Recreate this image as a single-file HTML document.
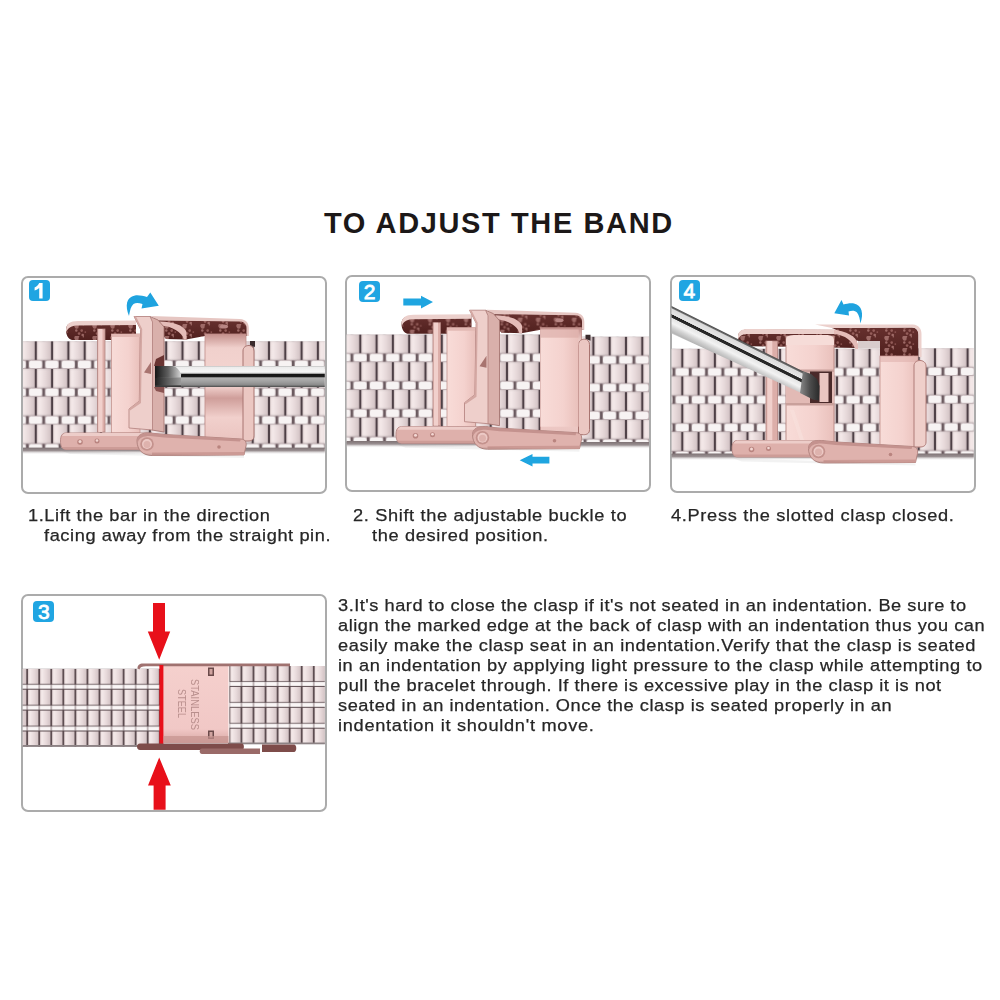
<!DOCTYPE html>
<html><head><meta charset="utf-8">
<style>
html,body{margin:0;padding:0;background:#fff;}
body{width:1000px;height:1000px;position:relative;overflow:hidden;font-family:"Liberation Sans",sans-serif;}
.t{position:absolute;white-space:pre;color:#262626;font-size:17.2px;line-height:20px;-webkit-text-stroke:0.25px #262626;transform:scaleX(1.06);transform-origin:0 0;}
#title{position:absolute;left:324px;top:204.5px;font-weight:bold;font-size:29px;line-height:36px;color:#1c1818;letter-spacing:1.62px;white-space:pre;}
.box{position:absolute;border:2px solid #ababab;border-radius:7px;box-sizing:border-box;background:#fff;}
.badge{position:absolute;width:21px;height:21px;border-radius:4px;background:#20a5e2;color:#fff;font-weight:normal;font-size:21px;line-height:22px;text-align:center;-webkit-text-stroke:0.8px #fff;}
svg{position:absolute;left:0;top:0;filter:blur(0.35px);}
</style></head><body>
<div id="title">TO ADJUST THE BAND</div>

<div class="box" style="left:21px;top:276px;width:305.8px;height:217.7px"></div>
<div class="box" style="left:344.6px;top:274.8px;width:306.4px;height:217.7px"></div>
<div class="box" style="left:669.6px;top:275.2px;width:306.2px;height:217.8px"></div>
<div class="box" style="left:20.7px;top:594.2px;width:306.1px;height:217.6px"></div>

<svg width="1000" height="1000" viewBox="0 0 1000 1000"><defs>
<linearGradient id="lk" x1="0" y1="0" x2="1" y2="0">
 <stop offset="0" stop-color="#eadcdc"/><stop offset="0.2" stop-color="#f4e9e9"/><stop offset="0.6" stop-color="#e6d8d9"/><stop offset="1" stop-color="#d2c2c4"/>
</linearGradient>
<linearGradient id="lkH" x1="0" y1="0" x2="0" y2="1">
 <stop offset="0" stop-color="#000" stop-opacity="0.06"/><stop offset="0.15" stop-color="#fff" stop-opacity="0"/><stop offset="0.85" stop-color="#fff" stop-opacity="0"/><stop offset="1" stop-color="#000" stop-opacity="0.08"/>
</linearGradient>
<pattern id="bandA" patternUnits="userSpaceOnUse" width="16.3" height="27.8">
 <rect width="16.3" height="27.8" fill="#4e4046"/>
 <rect x="0" y="18.8" width="16.3" height="9" fill="#b4a4a8"/>
 <rect x="1.1" y="0" width="14.1" height="18.8" fill="url(#lk)"/>
 <rect x="1.1" y="0" width="14.1" height="18.8" fill="url(#lkH)"/>
 <rect x="-7.1" y="19.2" width="13.7" height="8.2" rx="2.6" fill="#f7f3f3" stroke="#a89699" stroke-width="0.5"/>
 <rect x="9.2" y="19.2" width="13.7" height="8.2" rx="2.6" fill="#f7f3f3" stroke="#a89699" stroke-width="0.5"/>
 <rect x="6.7" y="19.4" width="2.4" height="7.8" fill="#6a5a5f"/>
</pattern>
<pattern id="bandB" patternUnits="userSpaceOnUse" width="12.05" height="20.9">
 <rect width="12.05" height="20.9" fill="#5a4a4e"/>
 <rect x="0.9" y="0" width="10.25" height="15.2" fill="url(#lk)"/>
 <rect x="0" y="16.0" width="12.05" height="3.9" fill="#faf6f6"/>
 <rect x="11.35" y="16.0" width="0.7" height="3.9" fill="#a89a9d"/>
 <rect x="0" y="16.0" width="0.7" height="3.9" fill="#a89a9d"/>
</pattern>
<linearGradient id="sd" x1="0" y1="0" x2="0" y2="1">
 <stop offset="0" stop-color="#bcbcbc"/><stop offset="0.06" stop-color="#ececec"/><stop offset="0.28" stop-color="#f7f7f7"/>
 <stop offset="0.35" stop-color="#d4d4d4"/><stop offset="0.38" stop-color="#141414"/><stop offset="0.52" stop-color="#1e1e1e"/>
 <stop offset="0.56" stop-color="#b4b4b4"/><stop offset="0.78" stop-color="#9c9c9c"/><stop offset="0.9" stop-color="#8a8a8a"/><stop offset="1" stop-color="#4a4a4a"/>
</linearGradient>
<linearGradient id="sd4" gradientUnits="userSpaceOnUse" x1="671.5" y1="306" x2="660.6" y2="327.9">
 <stop offset="0" stop-color="#4a4a4a"/><stop offset="0.06" stop-color="#6a6a6a"/><stop offset="0.10" stop-color="#dadada"/><stop offset="0.29" stop-color="#e6e6e6"/>
 <stop offset="0.31" stop-color="#262626"/><stop offset="0.41" stop-color="#2a2a2a"/><stop offset="0.44" stop-color="#e4e4e4"/>
 <stop offset="0.62" stop-color="#f3f3f3"/><stop offset="0.78" stop-color="#d2d2d2"/><stop offset="0.95" stop-color="#b6b6b6"/><stop offset="1" stop-color="#c8c8c8"/>
</linearGradient>
<linearGradient id="tip4" x1="0" y1="0" x2="1" y2="0">
 <stop offset="0" stop-color="#8a8a8a"/><stop offset="0.5" stop-color="#4e4e4e"/><stop offset="1" stop-color="#2a2a2a"/>
</linearGradient>
<linearGradient id="tip" x1="0" y1="0" x2="1" y2="0">
 <stop offset="0" stop-color="#151515"/><stop offset="0.5" stop-color="#5e5e5e"/><stop offset="1" stop-color="#d6d6d6"/>
</linearGradient>
<linearGradient id="tipB" x1="0" y1="0" x2="1" y2="0">
 <stop offset="0" stop-color="#1e1e1e"/><stop offset="0.6" stop-color="#6a6a6a"/><stop offset="1" stop-color="#9a9a9a"/>
</linearGradient>
<linearGradient id="pinkV" x1="0" y1="0" x2="0" y2="1">
 <stop offset="0" stop-color="#e6bcb7"/><stop offset="1" stop-color="#e0b2ad"/>
</linearGradient>
<linearGradient id="pinkP" x1="0" y1="0" x2="1" y2="0">
 <stop offset="0" stop-color="#f8dcd8"/><stop offset="0.6" stop-color="#f4d2ce"/><stop offset="1" stop-color="#e9c0bb"/>
</linearGradient>
<linearGradient id="pink3" x1="0" y1="0" x2="0" y2="1">
 <stop offset="0" stop-color="#f5d0cd"/><stop offset="0.82" stop-color="#f1c8c6"/><stop offset="1" stop-color="#d6a6a2"/>
</linearGradient>
<linearGradient id="topDark" x1="0" y1="0" x2="0" y2="1">
 <stop offset="0" stop-color="#66302e"/><stop offset="1" stop-color="#50201e"/>
</linearGradient>
<pattern id="mottle" patternUnits="userSpaceOnUse" width="18" height="12"><circle cx="4.3" cy="6.5" r="1.2" fill="#c89490"/><circle cx="11.3" cy="0.8" r="0.8" fill="#c89490"/><circle cx="4.7" cy="2.8" r="2.0" fill="#c89490"/><circle cx="9.7" cy="6.6" r="1.3" fill="#b87e7a"/><circle cx="4.2" cy="1.8" r="1.9" fill="#c89490"/><circle cx="13.3" cy="8.1" r="0.9" fill="#a86c6a"/><circle cx="5.4" cy="0.4" r="1.8" fill="#c89490"/><circle cx="10.7" cy="11.0" r="1.3" fill="#c89490"/><circle cx="7.1" cy="9.6" r="1.3" fill="#b87e7a"/></pattern>
<linearGradient id="rplate" x1="0" y1="0" x2="0" y2="1">
 <stop offset="0" stop-color="#c4908c"/><stop offset="0.13" stop-color="#f0d0cc"/><stop offset="0.48" stop-color="#f4d5d1"/>
 <stop offset="0.6" stop-color="#cf9e9a"/><stop offset="0.78" stop-color="#f1d0cc"/><stop offset="1" stop-color="#eac4c0"/>
</linearGradient>
<linearGradient id="bsh" x1="0" y1="0" x2="0" y2="1">
 <stop offset="0" stop-color="#7e7274"/><stop offset="0.45" stop-color="#9a9092"/><stop offset="1" stop-color="#ffffff" stop-opacity="0"/>
</linearGradient>
<clipPath id="cp1"><rect x="23.0" y="278.0" width="301.8" height="213.7" rx="5"/></clipPath>
<clipPath id="cp2"><rect x="346.6" y="276.8" width="302.4" height="213.7" rx="5"/></clipPath>
<clipPath id="cp4"><rect x="671.6" y="277.2" width="302.2" height="213.8" rx="5"/></clipPath>
<clipPath id="cp3"><rect x="22.7" y="596.2" width="302.1" height="213.6" rx="5"/></clipPath>
</defs>
<g clip-path="url(#cp1)">
 <g transform="translate(19.5,341.2)"><rect x="2" y="0" width="186" height="107.4" fill="url(#bandA)"/></g>
 <g transform="translate(24.5,341.2)"><rect x="220" y="0" width="90" height="107.4" fill="url(#bandA)"/></g>
 <rect x="22" y="447.6" width="310" height="7" fill="url(#bsh)"/>
 <g id="clasp1">
 <!-- top plate left -->
 <path d="M66,330 C66,324 70,322 78,322 L136,321.5 L136,340 L72,340 C68,339 66,335 66,330 Z" fill="url(#topDark)"/>
 <path d="M66,330 C66,324 70,322 78,322 L136,321.5 L136,340 L72,340 C68,339 66,335 66,330 Z" fill="url(#mottle)" opacity="0.6"/>
 <path d="M66,330 C66,324 70,321 78,321 L136,320.5 L136,325 L76,325.5 C71,326 68,328 66.5,332 Z" fill="#ecd0cc"/>
 <!-- top plate right -->
 <path d="M158,320 L242,321 C246.5,321.5 248,324 248,328 L248,336 L205,336 L186,339.5 L166,339 L158,330 Z" fill="url(#topDark)"/>
 <path d="M158,320 L242,321 C246.5,321.5 248,324 248,328 L248,336 L205,336 L186,339.5 L166,339 L158,330 Z" fill="url(#mottle)" opacity="0.6"/>
 <path d="M151,316 L240,319 C246,319.5 248.8,323 248.8,328 L248.8,336 L246.5,336 L246.5,328 C246.5,324 244,321.5 240,321.5 L158,320.5 Z" fill="#e6c6c2"/>
 <ellipse cx="224" cy="326.5" rx="4" ry="2" fill="#b88684"/>
 <path d="M160,321.5 C172,321.5 184,325 186.5,332 L186.5,339.5 L184,339.5 C182,332 172,326 160,325.5 Z" fill="#e4bcb8"/>
 
 <!-- left vertical bar -->
 <rect x="97.5" y="329" width="7.5" height="103" fill="#dcaea9" stroke="#b28480" stroke-width="0.8"/>
 <rect x="98.3" y="329" width="4.2" height="103" fill="#f1d0cc"/>
 <!-- central plate -->
 <rect x="111.5" y="334" width="28.5" height="99" fill="url(#pinkP)" stroke="#c49490" stroke-width="0.8"/>
 <rect x="111.5" y="334" width="28.5" height="3" fill="#e2b8b3"/>
 <!-- right plate -->
 <rect x="205" y="334" width="41" height="107" fill="url(#rplate)" stroke="#c08e8a" stroke-width="0.8"/>
 <!-- right bracket -->
 <path d="M243,351 C243,347 246,345.5 249,345.5 C252,345.5 254,347.5 254,351 L254,436 C254,440 251,441 248,441 L243,441 Z" fill="#ebc7c2" stroke="#a87470" stroke-width="1"/>
 <path d="M250,341 L255,341 L255,347 L250,345 Z" fill="#3a2a2c"/>
 <!-- lever -->
 <path d="M150,316.5 L158,320 L164,327 L164,432 L152,430 L152,322 Z" fill="#d9b0ab" stroke="#a87874" stroke-width="0.9"/>
 <path d="M134,316.5 L150,316.5 L152.5,322 L152.5,430 L129,428 L129,409 L139.3,401 L140.6,329.5 Z" fill="#eecfcb" stroke="#b88884" stroke-width="0.9"/>
 <path d="M134,316.5 L140.6,329.5 L139.3,401 L129,409 L130,410.5 L141,403 L142.2,329 L136,316.5 Z" fill="#d4a8a3"/>
 <path d="M144,372.5 L151,362 L151,374 Z" fill="#a87470"/>
 <g id="bp1"><!-- bottom plate -->
 <path d="M66,433 L152,433 L152,449.5 L66,449.5 C62,449.5 60.5,446 60.5,441 C60.5,436 62,433 66,433 Z" fill="#deb0ab" stroke="#b48682" stroke-width="0.9"/>
 <path d="M66,433 L152,433 L152,436 L62,436 C63,434 64.5,433 66,433 Z" fill="#edcdc9"/>
 <path d="M62,447 L152,447 L152,449.5 L66,449.5 C64,449.5 63,448.5 62,447 Z" fill="#cd9c97"/>
 <circle cx="80" cy="442" r="2.8" fill="#b9847f"/><circle cx="80" cy="441.5" r="1.5" fill="#f2d6d2"/>
 <circle cx="97" cy="441" r="2.5" fill="#b9847f"/><circle cx="97" cy="440.5" r="1.3" fill="#f2d6d2"/>
 <!-- lever arm -->
 <path d="M137,441 C137,435 142,432.5 150,433 L165,434.5 L241,439 C245.5,439.5 246.5,442 246,446 L244,455 L152,455.5 C143,455.5 137,450 137,441 Z" fill="#dfb2ad" stroke="#ad7f7b" stroke-width="0.9"/>
 <path d="M137,441 C137,435 142,432.5 150,433 L165,434.5 L241,439 L240,441.5 L164,437.5 L150,436 C143,436 139,438 138,442 Z" fill="#c4928e"/>
 <path d="M152,452.5 L244.5,452 L244,455 L152,455.5 Z" fill="#cc9a95"/>
 <circle cx="219" cy="447" r="1.8" fill="#b9847f"/>
 <circle cx="147" cy="444" r="6.8" fill="#c4928d"/><circle cx="147" cy="444" r="5" fill="#ecc9c5"/><circle cx="147" cy="444.5" r="3.5" fill="#deb2ad"/>
 <path d="M62,451 L244,456 L244,458 L70,454 Z" fill="#000" opacity="0.05"/></g>
 </g>
 <path d="M154,366 L156,359 L164,355 L164,366 Z" fill="#6a3432"/><path d="M154,387 L164,387 L164,393 L156,391 Z" fill="#8a5452"/>
 <!-- screwdriver -->
 <rect x="155" y="366" width="173" height="21" fill="url(#sd)"/>
 <path d="M155,378 L181,377.4 L181,385.4 L155,386 Z" fill="url(#tipB)"/>
 <path d="M155,366 L173,366 C177,367 179.5,370 181,374.2 L181,377.4 L155,378 Z" fill="url(#tip)"/>
 <rect x="155" y="385.4" width="26" height="1.6" fill="#3a3a3a"/>
 <!-- blue arrow -->
 <path d="M129,316 C125,306 126,297 135,295.5 C139,295 143,296 147,297 L150.3,292.5 L158.8,305.8 L141.5,308.5 L142.5,304 C139,303 136,302.5 133.5,304 C131,306 130,310 129,316 Z" fill="#1fa3df"/>
</g>
<g clip-path="url(#cp2)">
 <g transform="translate(344,334.4)"><rect x="0" y="0" width="200" height="107.4" fill="url(#bandA)"/></g>
 <g transform="translate(593.4,336.6)"><rect x="-16" y="0" width="80" height="106" fill="url(#bandA)"/></g>
 <rect x="346" y="441" width="200" height="7" fill="url(#bsh)"/><rect x="577" y="442" width="80" height="7" fill="url(#bsh)"/>
 <use href="#clasp1" transform="translate(335.5,-6.3)"/>
 <rect x="540.5" y="329.7" width="38" height="97" fill="url(#pinkP)"/>
 <rect x="540.5" y="329.7" width="38" height="8" fill="#d8a8a3" opacity="0.6"/>
 <path d="M403.3,298.6 L421,298.6 L421,295.8 L433,302.1 L421,308.5 L421,305.4 L403.3,305.4 Z" fill="#1fa5e0"/>
 <path d="M549.4,456.8 L532.5,456.8 L532.5,454 L519.7,460.2 L532.5,466.4 L532.5,463.6 L549.4,463.6 Z" fill="#1fa5e0"/>
</g>
<g clip-path="url(#cp4)">
 <g transform="translate(666,348.7)"><rect x="2" y="0" width="128" height="105.3" fill="url(#bandA)"/></g>
 <g transform="translate(837,348.7)"><rect x="-10" y="0" width="56" height="105.3" fill="url(#bandA)"/></g>
 <g transform="translate(935,348.2)"><rect x="-20" y="0" width="60" height="106" fill="url(#bandA)"/></g>
 <rect x="671" y="453.5" width="310" height="7" fill="url(#bsh)"/>
 <!-- top plate left -->
 <path d="M738,337 C738,332 741,329.5 748,329.5 L850,330 C855,331 857,336 857,348 L740,346 C738.5,343 738,340 738,337 Z" fill="url(#topDark)"/>
 <path d="M738,337 C738,332 741,329.5 748,329.5 L850,330 C855,331 857,336 857,348 L740,346 C738.5,343 738,340 738,337 Z" fill="url(#mottle)" opacity="0.6"/>
 <path d="M738,337 C738,331.5 741,329 748,329 L850,329.5 C854,330 856,332 857,336 L852,334 L746,334 C742,334.5 739.5,336 738.5,339 Z" fill="#ecd0cc"/>
 <!-- top plate right -->
 <path d="M832,328 L912,327.5 C917,328 918.5,331 918.5,335 L918.5,356 L880,356 L880,344 L858,341 L846,334 Z" fill="url(#topDark)"/>
 <path d="M832,328 L912,327.5 C917,328 918.5,331 918.5,335 L918.5,356 L880,356 L880,344 L858,341 L846,334 Z" fill="url(#mottle)" opacity="0.6"/>
 <path d="M815,324.5 L913,324.5 C918.5,325 921.5,328.5 921.5,334 L921.5,357 L918.5,357 L918.5,335 C918.5,331 916.5,327.5 912,327.5 L832,328 Z" fill="#ecd0cc"/>
 <rect x="858" y="341" width="22" height="7.5" fill="#d8cccc"/>
 <path d="M834,330 C846,331 856,336 858,344 L858,349 L855,349 C853,341 845,335 834,334 Z" fill="#e4bcb8"/>
 
 <!-- left vertical bar -->
 <rect x="766" y="341" width="11.5" height="102" fill="#dcaea9" stroke="#b28480" stroke-width="0.8"/>
 <rect x="767.3" y="341" width="5" height="102" fill="#f1d0cc"/>
 <!-- lever block -->
 <rect x="786" y="336" width="48" height="107" fill="url(#pinkP)" stroke="#b88884" stroke-width="0.9"/>
 <path d="M786,340 C786,336 790,335 796,335 L826,335 C831,335 834,337 834,341 L834,345 L786,345 Z" fill="#f6dcd8"/>
 <rect x="786" y="369.5" width="48" height="2.5" fill="#c9a09b"/>
 <rect x="786" y="372" width="48" height="31" fill="#e2bab5"/>
 <rect x="810" y="371.5" width="22" height="31.5" fill="#4a2a2a"/>
 <rect x="819.5" y="373" width="9" height="29" fill="#eac6c1"/>
 <rect x="786" y="403" width="48" height="2.5" fill="#c9a09b"/>
 <path d="M790,410 L800,440 L804,440 L794,410 Z" fill="#f8e0dc" opacity="0.7"/>
 <!-- right plate -->
 <rect x="880" y="356" width="38" height="91" fill="url(#pinkP)" stroke="#c08e8a" stroke-width="0.8"/>
 <rect x="880" y="356" width="38" height="6" fill="#dcaca7" opacity="0.5"/>
 <!-- right bracket -->
 <path d="M914,366 C914,362 917,360.5 920,360.5 C923,360.5 926,362.5 926,366 L926,442 C926,446 923,447 920,447 L914,447 Z" fill="#efcfca" stroke="#b07c78" stroke-width="1"/>
 <!-- bottom plate -->
 <use href="#bp1" transform="translate(671.5,7.5)"/>
 <!-- screwdriver -->
 <path d="M660,300.3 L804.4,372 L812,375 L815,382 L814.8,399.2 L660,328.1 Z" fill="url(#sd4)"/>
 <path d="M803,371.3 L811,374 L817,379 L819.5,386 L819,400.5 L813,399.5 L806,396 L800,393 Z" fill="url(#tip4)"/>
 <!-- blue arrow -->
 <path d="M860.3,323.5 C864,314 862,305 854,303.5 C850,303 846,304 843.5,304.5 L841.5,300 L834.3,313.3 L849,315.5 L848.5,311.5 C852,310.5 855,310.5 857,312.5 C859,315 860,319 860.3,323.5 Z" fill="#1fa3df"/>
</g>
<g clip-path="url(#cp3)">
 <g transform="translate(3.1,668.8)"><rect x="18" y="0" width="140" height="78" fill="url(#bandB)"/></g>
 <rect x="22" y="745" width="140" height="1.8" fill="#8d8385"/>
 <g transform="translate(229.4,666)"><rect x="0" y="0" width="100" height="78" fill="url(#bandB)"/></g>
 <rect x="228" y="742.5" width="100" height="1.8" fill="#8d8385"/>
 <!-- clasp -->
 <rect x="160" y="665" width="68.5" height="78" fill="url(#pink3)"/>
 <path d="M137.5,668.5 C137.5,665 139.5,663.5 143,663.5 L290,663.5 L290,666.2 L146,666.2 C142,666.2 140,667 139.5,669.5 Z" fill="#a07270"/>
 <rect x="159.4" y="665" width="4" height="80" fill="#e8101a"/>
 <rect x="208" y="667.5" width="6" height="8.5" fill="#6a4a4a"/><rect x="209.5" y="669" width="3" height="5.5" fill="#d0a4a0"/>
 <rect x="208" y="730.5" width="6" height="8.5" fill="#6a4a4a"/><rect x="209.5" y="732" width="3" height="5.5" fill="#d0a4a0"/>
 <text transform="translate(190.5,679) rotate(90)" font-family="Liberation Sans" font-size="10.5" fill="#b88e8c" textLength="51" lengthAdjust="spacingAndGlyphs">STAINLESS</text>
 <text transform="translate(177.5,689) rotate(90)" font-family="Liberation Sans" font-size="10.5" fill="#b88e8c" textLength="29" lengthAdjust="spacingAndGlyphs">STEEL</text>
 <rect x="163.4" y="736" width="65" height="7" fill="#c69490" opacity="0.7"/>
 <path d="M140,743.5 L242,743.5 C244.5,743.5 244.5,750 242,750 L140,750 C136,750 136,743.5 140,743.5 Z" fill="#7e4c4a"/>
 <path d="M202,748.5 L260,748.5 L260,754 L202,754 C199,754 199,748.5 202,748.5 Z" fill="#9a6a68"/>
 <path d="M262,744.5 L294,744.5 C297,744.5 297,752 294,752 L262,752 Z" fill="#7e4c4a"/>
 <!-- red arrows -->
 <path d="M153,603 L165,603 L165,631.5 L170.2,631.5 L159.2,659.8 L147.8,631.5 L153,631.5 Z" fill="#e8101a"/>
 <path d="M153.6,811 L165.6,811 L165.6,785.4 L170.8,785.4 L159.2,757.4 L148,785.4 L153.6,785.4 Z" fill="#e8101a"/>
</g>
</svg><div class="badge" style="left:29px;top:280px"><svg width="21" height="21" viewBox="0 0 21 21" style="position:absolute;left:0;top:0;filter:none"><path d="M10.2,3 L13.6,3 L13.6,18.6 L10.2,18.6 L10.2,8 C9,9.2 7.4,10 5.6,10.4 L5.6,7.4 C7.6,6.6 9.2,5 10.2,3 Z" fill="#fff"/></svg></div>
<div class="badge" style="left:359.2px;top:281.3px">2</div>
<div class="badge" style="left:678.8px;top:279.8px">4</div>
<div class="badge" style="left:33.4px;top:601px">3</div>

<div class="t" id="c1a" style="letter-spacing:0.538px;left:27.5px;top:505.0px">1.Lift the bar in the direction</div>
<div class="t" id="c1b" style="letter-spacing:0.548px;left:43.9px;top:525.0px">facing away from the straight pin.</div>
<div class="t" id="c2a" style="letter-spacing:0.601px;left:352.9px;top:504.8px">2. Shift the adjustable buckle to</div>
<div class="t" id="c2b" style="letter-spacing:0.614px;left:372.3px;top:524.8px">the desired position.</div>
<div class="t" id="c4" style="letter-spacing:0.636px;left:670.9px;top:505.0px">4.Press the slotted clasp closed.</div>

<div class="t" id="p1" style="letter-spacing:0.481px;left:337.5px;top:595.3px">3.It's hard to close the clasp if it's not seated in an indentation. Be sure to</div>
<div class="t" id="p2" style="letter-spacing:0.496px;left:337.5px;top:615.3px">align the marked edge at the back of clasp with an indentation thus you can</div>
<div class="t" id="p3" style="letter-spacing:0.539px;left:337.5px;top:635.3px">easily make the clasp seat in an indentation.Verify that the clasp is seated</div>
<div class="t" id="p4" style="letter-spacing:0.541px;left:337.5px;top:655.3px">in an indentation by applying light pressure to the clasp while attempting to</div>
<div class="t" id="p5" style="letter-spacing:0.491px;left:337.5px;top:675.3px">pull the bracelet through. If there is excessive play in the clasp it is not</div>
<div class="t" id="p6" style="letter-spacing:0.517px;left:337.5px;top:695.3px">seated in an indentation. Once the clasp is seated properly in an</div>
<div class="t" id="p7" style="letter-spacing:0.665px;left:337.5px;top:715.3px">indentation it shouldn't move.</div>

</body></html>
